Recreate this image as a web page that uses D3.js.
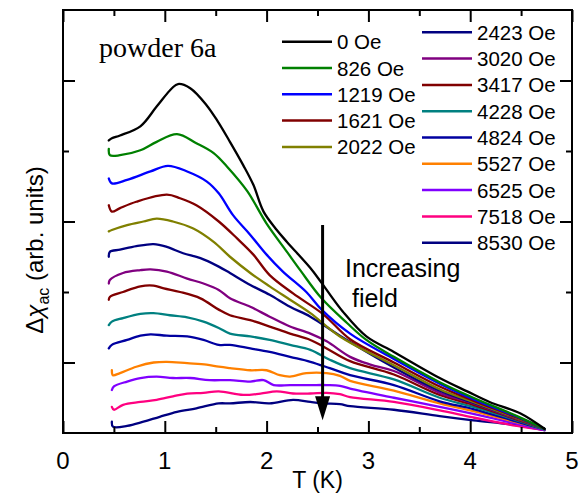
<!DOCTYPE html>
<html>
<head>
<meta charset="utf-8">
<script src="https://cdn.jsdelivr.net/npm/d3@7"></script>
<style>
  html, body { margin: 0; padding: 0; background: #fff; }
  svg { display: block; }
</style>
</head>
<body>
<svg id="chart" width="579" height="493"></svg>
<script>
// Temperature-dependent ac susceptibility, powder 6a, for several dc fields.
// Each series: [T (K), Δχac (arb. units)]
const fields = ["0 Oe", "826 Oe", "1219 Oe", "1621 Oe", "2022 Oe", "2423 Oe", "3020 Oe",
                "3417 Oe", "4228 Oe", "4824 Oe", "5527 Oe", "6525 Oe", "7518 Oe", "8530 Oe"];
const colors = ["#000000", "#008000", "#0000ff", "#800000", "#808000", "#000080", "#800080",
                "#800000", "#008080", "#0000a0", "#ff8000", "#8000ff", "#ff0080", "#000080"];

const h0 = [[0.45,4.15],[0.48,4.18],[0.56,4.22],[0.76,4.35],[0.92,4.63],[1.07,4.89],[1.13,4.95],[1.25,4.89],[1.41,4.65],[1.52,4.42],[1.64,4.13],[1.77,3.80],[1.87,3.52],[1.97,3.14],[2.10,2.88],[2.20,2.71],[2.43,2.34],[2.54,2.13],[2.75,1.72],[2.98,1.37],[3.25,1.15],[3.70,0.78],[3.97,0.59],[4.19,0.44],[4.49,0.28],[4.73,0.06]];
const h826 = [[0.45,4.03],[0.46,3.94],[0.56,3.94],[0.76,4.01],[0.92,4.13],[1.12,4.24],[1.31,4.11],[1.48,3.97],[1.61,3.78],[1.81,3.43],[2.00,2.97],[2.20,2.57],[2.33,2.31],[2.54,1.91],[2.79,1.56],[2.98,1.32],[3.25,1.08],[3.70,0.72],[4.03,0.50],[4.46,0.24],[4.73,0.06]];
const h1219 = [[0.45,3.61],[0.48,3.54],[0.63,3.59],[0.86,3.71],[1.03,3.79],[1.22,3.71],[1.41,3.57],[1.53,3.40],[1.67,3.09],[1.84,2.81],[2.00,2.53],[2.16,2.29],[2.39,2.00],[2.54,1.75],[2.82,1.41],[3.25,1.05],[3.70,0.70],[4.03,0.48],[4.46,0.23],[4.73,0.06]];
const h1621 = [[0.45,3.23],[0.48,3.14],[0.56,3.19],[0.72,3.28],[1.02,3.38],[1.15,3.33],[1.31,3.23],[1.53,3.00],[1.71,2.76],[1.87,2.53],[2.03,2.24],[2.26,1.98],[2.56,1.68],[2.82,1.33],[3.25,1.00],[3.70,0.66],[4.03,0.46],[4.46,0.22],[4.73,0.06]];
const h2022 = [[0.45,2.86],[0.48,2.88],[0.63,2.95],[0.79,3.00],[0.92,3.04],[1.08,3.00],[1.28,2.90],[1.48,2.71],[1.64,2.50],[1.84,2.27],[2.03,2.08],[2.23,1.89],[2.43,1.70],[2.72,1.37],[3.25,0.96],[3.70,0.62],[4.03,0.44],[4.46,0.21],[4.73,0.06]];
const h2423 = [[0.45,2.50],[0.46,2.57],[0.56,2.60],[0.72,2.65],[0.89,2.68],[1.02,2.64],[1.18,2.55],[1.35,2.48],[1.53,2.36],[1.64,2.27],[1.84,2.10],[2.03,1.96],[2.23,1.79],[2.43,1.65],[2.72,1.38],[3.25,0.93],[3.70,0.60],[4.03,0.43],[4.46,0.21],[4.73,0.06]];
const h3020 = [[0.45,2.12],[0.46,2.17],[0.59,2.27],[0.76,2.31],[0.86,2.32],[1.02,2.29],[1.22,2.19],[1.38,2.12],[1.53,2.03],[1.64,1.91],[1.84,1.79],[2.03,1.65],[2.23,1.51],[2.43,1.41],[2.59,1.30],[2.82,1.08],[3.02,0.97],[3.25,0.88],[3.70,0.57],[4.03,0.42],[4.46,0.20],[4.73,0.06]];
const h3417 = [[0.45,1.89],[0.46,1.93],[0.59,2.00],[0.76,2.08],[0.89,2.09],[0.99,2.05],[1.15,2.00],[1.35,1.91],[1.53,1.75],[1.64,1.67],[1.84,1.60],[2.03,1.51],[2.23,1.41],[2.43,1.32],[2.59,1.20],[2.82,1.02],[3.25,0.83],[3.70,0.54],[4.03,0.40],[4.46,0.19],[4.73,0.06]];
const h4228 = [[0.45,1.53],[0.48,1.58],[0.59,1.63],[0.76,1.69],[0.89,1.70],[1.05,1.67],[1.22,1.64],[1.38,1.58],[1.53,1.49],[1.64,1.41],[1.84,1.37],[2.03,1.32],[2.23,1.25],[2.43,1.18],[2.62,1.04],[2.82,0.92],[3.25,0.76],[3.70,0.50],[4.03,0.37],[4.46,0.18],[4.73,0.05]];
const h4824 = [[0.45,1.20],[0.48,1.25],[0.63,1.32],[0.76,1.38],[0.86,1.40],[1.02,1.38],[1.22,1.37],[1.38,1.32],[1.53,1.25],[1.64,1.25],[1.84,1.20],[2.03,1.15],[2.23,1.08],[2.43,1.01],[2.62,0.92],[2.82,0.82],[3.25,0.68],[3.70,0.45],[4.03,0.34],[4.46,0.16],[4.73,0.05]];
const h5527 = [[0.48,0.89],[0.49,0.82],[0.56,0.85],[0.72,0.94],[0.89,1.00],[1.02,1.01],[1.22,0.99],[1.41,0.97],[1.53,0.94],[1.64,0.92],[1.84,0.89],[2.00,0.89],[2.13,0.82],[2.23,0.80],[2.39,0.85],[2.59,0.85],[2.72,0.81],[2.82,0.74],[3.25,0.60],[3.70,0.42],[4.03,0.31],[4.46,0.15],[4.73,0.05]];
const h6525 = [[0.48,0.61],[0.50,0.66],[0.63,0.73],[0.76,0.78],[0.92,0.80],[1.08,0.78],[1.25,0.78],[1.44,0.75],[1.64,0.75],[1.84,0.73],[1.97,0.75],[2.07,0.68],[2.23,0.68],[2.43,0.68],[2.59,0.68],[2.72,0.67],[2.82,0.63],[3.25,0.50],[3.70,0.37],[4.03,0.27],[4.46,0.13],[4.73,0.04]];
const h7518 = [[0.48,0.37],[0.50,0.33],[0.59,0.40],[0.76,0.44],[0.92,0.47],[1.08,0.52],[1.22,0.56],[1.38,0.57],[1.53,0.59],[1.77,0.54],[1.94,0.56],[2.10,0.59],[2.26,0.56],[2.43,0.56],[2.59,0.57],[2.72,0.55],[2.82,0.51],[3.25,0.44],[3.70,0.32],[4.03,0.22],[4.46,0.10],[4.73,0.04]];
const h8530 = [[0.48,0.16],[0.49,0.09],[0.63,0.10],[0.79,0.16],[0.95,0.23],[1.12,0.30],[1.31,0.35],[1.53,0.42],[1.64,0.42],[1.84,0.44],[2.03,0.42],[2.26,0.47],[2.43,0.44],[2.56,0.42],[2.72,0.41],[2.82,0.38],[3.25,0.33],[3.70,0.24],[4.03,0.18],[4.46,0.11],[4.73,0.04]];

const series = [h0, h826, h1219, h1621, h2022, h2423, h3020, h3417, h4228, h4824, h5527, h6525, h7518, h8530];

const xTicks = [0, 1, 2, 3, 4, 5];
const xMinorTicks = [0.5, 1.5, 2.5, 3.5, 4.5];
const yMajorTicks = [1, 3, 5];
const yMinorTicks = [2, 4];

// "Increasing field" arrow: T position and Δχ span
const arrowT = 2.55, arrowTop = 2.95, arrowTip = 0.18;

const sans = "'Liberation Sans', Arial, sans-serif";
const serif = "'Liberation Serif', 'Times New Roman', serif";

const svg = d3.select("#chart").style("font-family", sans);
const plot = { left: 63, right: 572, top: 10, bottom: 433 };

const x = d3.scaleLinear().domain([0, 5]).range([plot.left, plot.right]);
const y = d3.scaleLinear().domain([0, 6]).range([plot.bottom, plot.top]);

// curves, lowest field drawn last so it sits on top of the higher-field traces
const line = d3.line().x(d => x(d[0])).y(d => y(d[1])).curve(d3.curveCatmullRom.alpha(0.5));
svg.append("g").selectAll("path")
  .data(series.map((s, i) => ({ s, i })).reverse())
  .join("path")
  .attr("d", d => line(d.s))
  .attr("fill", "none")
  .attr("stroke", d => colors[d.i])
  .attr("stroke-width", 2.3)
  .attr("stroke-linejoin", "round")
  .attr("stroke-linecap", "round");

// frame with inward ticks on all four sides
const axisG = svg.append("g");
function ticks(axisFn, scale, vals, len, transform) {
  axisG.append("g")
    .attr("transform", transform)
    .call(axisFn(scale).tickValues(vals).tickSize(len).tickFormat(""))
    .call(g => g.select(".domain").remove())
    .call(g => g.selectAll("line").attr("stroke", "#000").attr("stroke-width", 2));
}
ticks(d3.axisTop, x, xTicks, 12, `translate(0,${plot.bottom})`);
ticks(d3.axisTop, x, xMinorTicks, 6, `translate(0,${plot.bottom})`);
ticks(d3.axisBottom, x, xTicks, 12, `translate(0,${plot.top})`);
ticks(d3.axisBottom, x, xMinorTicks, 6, `translate(0,${plot.top})`);
ticks(d3.axisRight, y, yMajorTicks, 12, `translate(${plot.left},0)`);
ticks(d3.axisRight, y, yMinorTicks, 6, `translate(${plot.left},0)`);
ticks(d3.axisLeft, y, yMajorTicks, 12, `translate(${plot.right},0)`);
ticks(d3.axisLeft, y, yMinorTicks, 6, `translate(${plot.right},0)`);

axisG.append("rect")
  .attr("x", plot.left).attr("y", plot.top)
  .attr("width", plot.right - plot.left).attr("height", plot.bottom - plot.top)
  .attr("fill", "none").attr("stroke", "#000").attr("stroke-width", 2);

// x tick labels
svg.append("g").selectAll("text")
  .data(xTicks)
  .join("text")
  .attr("x", d => x(d))
  .attr("y", 469)
  .attr("text-anchor", "middle")
  .attr("font-size", 24)
  .text(d => d);

// axis titles
svg.append("text")
  .attr("x", x(2.5)).attr("y", 488)
  .attr("text-anchor", "middle")
  .attr("font-size", 23)
  .text("T (K)");

const yl = svg.append("text")
  .attr("transform", "translate(43,250) rotate(-90)")
  .attr("text-anchor", "middle")
  .attr("font-size", 24);
yl.append("tspan").text("Δ");
yl.append("tspan").style("font-style", "italic").text("χ");
yl.append("tspan").attr("font-size", 16).attr("dy", 6).text("ac");
yl.append("tspan").attr("dy", -6).text(" (arb. units)");

// sample label
svg.append("text")
  .attr("x", 99).attr("y", 57)
  .style("font-family", serif)
  .attr("font-size", 28)
  .text("powder 6a");

// legend, two columns
const legendCols = [
  { x: 282, y0: 41.7, items: d3.range(0, 5) },
  { x: 422, y0: 32.3, items: d3.range(5, 14) }
];
const rowH = 26.3;
legendCols.forEach(col => {
  const g = svg.append("g");
  col.items.forEach((idx, k) => {
    const yy = col.y0 + k * rowH;
    g.append("line")
      .attr("x1", col.x).attr("x2", col.x + 50)
      .attr("y1", yy).attr("y2", yy)
      .attr("stroke", colors[idx]).attr("stroke-width", 2.5);
    g.append("text")
      .attr("x", col.x + 55).attr("y", yy + 7.5)
      .attr("font-size", 20.5)
      .text(fields[idx]);
  });
});

// increasing-field arrow
svg.append("line")
  .attr("x1", x(arrowT)).attr("x2", x(arrowT))
  .attr("y1", y(arrowTop)).attr("y2", y(arrowTip) - 18)
  .attr("stroke", "#000").attr("stroke-width", 3);
svg.append("path")
  .attr("d", `M${x(arrowT) - 7.5},${y(arrowTip) - 24} L${x(arrowT) + 7.5},${y(arrowTip) - 24} L${x(arrowT)},${y(arrowTip)} Z`)
  .attr("fill", "#000");

svg.append("text")
  .attr("x", 345).attr("y", 277)
  .attr("font-size", 25)
  .text("Increasing");
svg.append("text")
  .attr("x", 352).attr("y", 307)
  .attr("font-size", 25)
  .text("field");
</script>
</body>
</html>
